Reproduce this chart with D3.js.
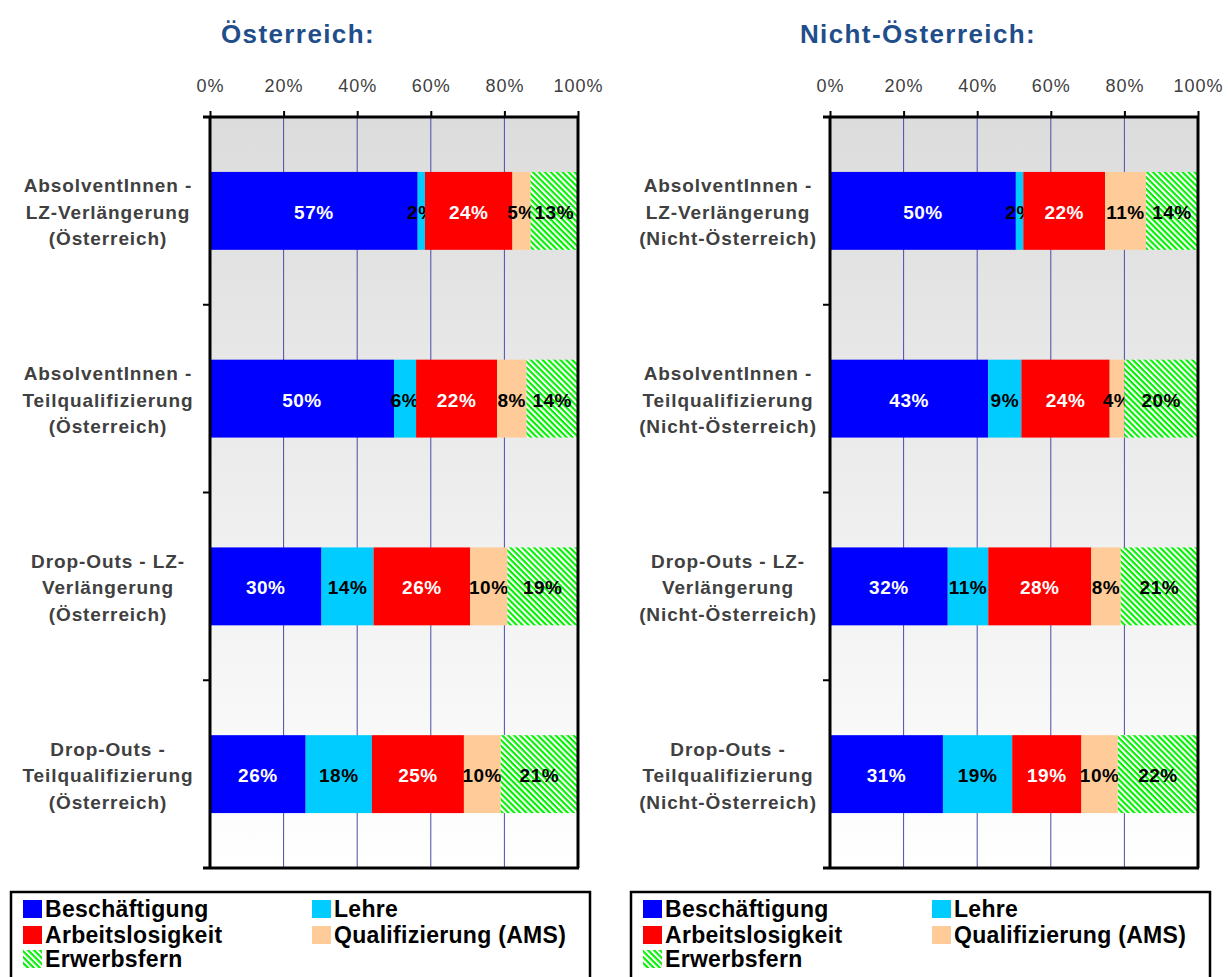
<!DOCTYPE html>
<html>
<head>
<meta charset="utf-8">
<script src="https://cdn.jsdelivr.net/npm/d3@7"></script>
<style>
  html, body { margin: 0; padding: 0; background: #ffffff; }
  svg { display: block; font-family: "Liberation Sans", Arial, Helvetica, sans-serif; }
</style>
</head>
<body>
<svg id="chart" width="1228" height="977"></svg>
<script>
// ---------- DATA ----------
const seriesNames = ["Beschäftigung", "Lehre", "Arbeitslosigkeit", "Qualifizierung (AMS)", "Erwerbsfern"];
const tickValues = [0, 0.2, 0.4, 0.6, 0.8, 1.0];
const tickLabels = ["0%", "20%", "40%", "60%", "80%", "100%"];

const titleAT = "Österreich:";
const categoriesAT = [
  ["AbsolventInnen -", "LZ-Verlängerung", "(Österreich)"],
  ["AbsolventInnen -", "Teilqualifizierung", "(Österreich)"],
  ["Drop-Outs - LZ-", "Verlängerung", "(Österreich)"],
  ["Drop-Outs -", "Teilqualifizierung", "(Österreich)"]
];
const beschAT = [57, 50, 30, 26];
const lehreAT = [2, 6, 14, 18];
const arbeitAT = [24, 22, 26, 25];
const qualAT = [5, 8, 10, 10];
const erwerbAT = [13, 14, 19, 21];

const titleNAT = "Nicht-Österreich:";
const categoriesNAT = [
  ["AbsolventInnen -", "LZ-Verlängerung", "(Nicht-Österreich)"],
  ["AbsolventInnen -", "Teilqualifizierung", "(Nicht-Österreich)"],
  ["Drop-Outs - LZ-", "Verlängerung", "(Nicht-Österreich)"],
  ["Drop-Outs -", "Teilqualifizierung", "(Nicht-Österreich)"]
];
const beschNAT = [50, 43, 32, 31];
const lehreNAT = [2, 9, 11, 19];
const arbeitNAT = [22, 24, 28, 19];
const qualNAT = [11, 4, 8, 10];
const erwerbNAT = [14, 20, 21, 22];

// ---------- STYLE ----------
const colors = ["#0000ff", "#00ccff", "#ff0000", "#ffcc99", "url(#hatch)"];
const labelColors = ["#ffffff", "#000000", "#ffffff", "#000000", "#000000"];

const svg = d3.select("#chart");
const defs = svg.append("defs");

const grad = defs.append("linearGradient").attr("id", "bgGrad")
  .attr("x1", 0).attr("y1", 0).attr("x2", 0).attr("y2", 1);
grad.append("stop").attr("offset", "0%").attr("stop-color", "#dcdcdc");
grad.append("stop").attr("offset", "100%").attr("stop-color", "#ffffff");

const pat = defs.append("pattern").attr("id", "hatch")
  .attr("patternUnits", "userSpaceOnUse")
  .attr("width", 4.2).attr("height", 4.2)
  .attr("patternTransform", "rotate(45)");
pat.append("rect").attr("width", 4.2).attr("height", 4.2).attr("fill", "#ffffff");
pat.append("rect").attr("width", 4.2).attr("height", 2.1).attr("fill", "#00f000");

function drawPanel(ox, title, cats, vals) {
  const g = svg.append("g").attr("transform", `translate(${ox},0)`);
  const x0 = 210, x1 = 578, y0 = 117, y1 = 868;

  const rows = cats.map((c, i) => {
    const r = { key: i };
    seriesNames.forEach((s, j) => r[s] = vals[j][i]);
    return r;
  });
  const x = d3.scaleLinear().domain([0, 1]).range([x0, x1]);
  const y = d3.scaleBand().domain(d3.range(cats.length)).range([y0, y1])
    .paddingInner(0.585).paddingOuter(0.2925);

  // title
  g.append("text").attr("x", 298).attr("y", 43)
    .attr("text-anchor", "middle")
    .attr("font-size", 26).attr("font-weight", "bold")
    .attr("letter-spacing", 1.4)
    .attr("fill", "#1f4e8a").text(title);

  // background
  g.append("rect").attr("x", x0).attr("y", y0).attr("width", x1 - x0).attr("height", y1 - y0)
    .attr("fill", "url(#bgGrad)");

  // gridlines
  g.selectAll("line.grid").data(tickValues.slice(1, -1)).join("line")
    .attr("class", "grid")
    .attr("x1", d => x(d)).attr("x2", d => x(d))
    .attr("y1", y0).attr("y2", y1)
    .attr("stroke", "#4b4bab").attr("stroke-width", 1);

  // stacked bars
  const stack = d3.stack().keys(seriesNames).offset(d3.stackOffsetExpand);
  const layers = stack(rows);
  layers.forEach((layer, j) => {
    const lg = g.append("g");
    lg.selectAll("rect").data(layer).join("rect")
      .attr("x", d => x(d[0])).attr("y", (d, i) => y(i))
      .attr("width", d => x(d[1]) - x(d[0]))
      .attr("height", y.bandwidth())
      .attr("fill", colors[j]);
    lg.selectAll("text").data(layer).join("text")
      .attr("x", d => (x(d[0]) + x(d[1])) / 2)
      .attr("y", (d, i) => y(i) + y.bandwidth() / 2 + 8)
      .attr("text-anchor", "middle")
      .attr("font-size", 19).attr("font-weight", "bold")
      .attr("letter-spacing", 0.5)
      .attr("fill", labelColors[j])
      .text(d => d.data[seriesNames[j]] + "%");
  });

  // top axis
  const axTop = d3.axisTop(x).tickValues(tickValues)
    .tickFormat((d, i) => tickLabels[i]).tickSize(6).tickSizeOuter(0);
  const ax = g.append("g").attr("transform", `translate(0,${y0})`).call(axTop);
  ax.select(".domain").remove();
  ax.selectAll(".tick line").attr("stroke", "#000").attr("stroke-width", 2);
  ax.selectAll(".tick text").attr("font-size", 18).attr("fill", "#404040")
    .attr("letter-spacing", 1).attr("font-family", "Liberation Sans, Arial, sans-serif")
    .attr("dy", "-0.9em");

  // frame
  g.append("line").attr("x1", x0 - 7).attr("x2", x1 + 1).attr("y1", y0).attr("y2", y0)
    .attr("stroke", "#000").attr("stroke-width", 3);
  g.append("line").attr("x1", x0 - 7).attr("x2", x1 + 1).attr("y1", y1).attr("y2", y1)
    .attr("stroke", "#000").attr("stroke-width", 3);
  g.append("line").attr("x1", x0).attr("x2", x0).attr("y1", y0).attr("y2", y1)
    .attr("stroke", "#000").attr("stroke-width", 3);
  g.append("line").attr("x1", x1).attr("x2", x1).attr("y1", y0).attr("y2", y1)
    .attr("stroke", "#000").attr("stroke-width", 3);

  // category boundary ticks
  const bounds = d3.range(1, cats.length).map(i => y0 + i * y.step());
  g.selectAll("line.ctick").data(bounds).join("line")
    .attr("class", "ctick")
    .attr("x1", x0 - 7).attr("x2", x0).attr("y1", d => d).attr("y2", d => d)
    .attr("stroke", "#000").attr("stroke-width", 2);

  // category labels
  cats.forEach((lines, i) => {
    const cy = y(i) + y.bandwidth() / 2;
    const t = g.append("text").attr("text-anchor", "middle")
      .attr("font-size", 19).attr("font-weight", "bold")
      .attr("letter-spacing", 0.9).attr("fill", "#404040");
    lines.forEach((ln, k) => {
      t.append("tspan").attr("x", 108).attr("y", cy + (k - 1) * 26.5 + 8).text(ln);
    });
  });

  // legend
  g.append("rect").attr("x", 11).attr("y", 892).attr("width", 579).attr("height", 100)
    .attr("fill", "#fff").attr("stroke", "#000").attr("stroke-width", 2.5);
  const legPos = [[23, 900], [312, 900], [23, 926], [312, 926], [23, 950]];
  seriesNames.forEach((s, j) => {
    const [lx, ly] = legPos[j];
    g.append("rect").attr("x", lx).attr("y", ly).attr("width", 19).attr("height", 18)
      .attr("fill", colors[j]);
    g.append("text").attr("x", lx + 22).attr("y", ly + 17)
      .attr("font-size", 23).attr("font-weight", "bold").attr("fill", "#000")
      .attr("letter-spacing", 0.3)
      .text(s);
  });
}

drawPanel(0, titleAT, categoriesAT, [beschAT, lehreAT, arbeitAT, qualAT, erwerbAT]);
drawPanel(620, titleNAT, categoriesNAT, [beschNAT, lehreNAT, arbeitNAT, qualNAT, erwerbNAT]);
</script>
</body>
</html>
